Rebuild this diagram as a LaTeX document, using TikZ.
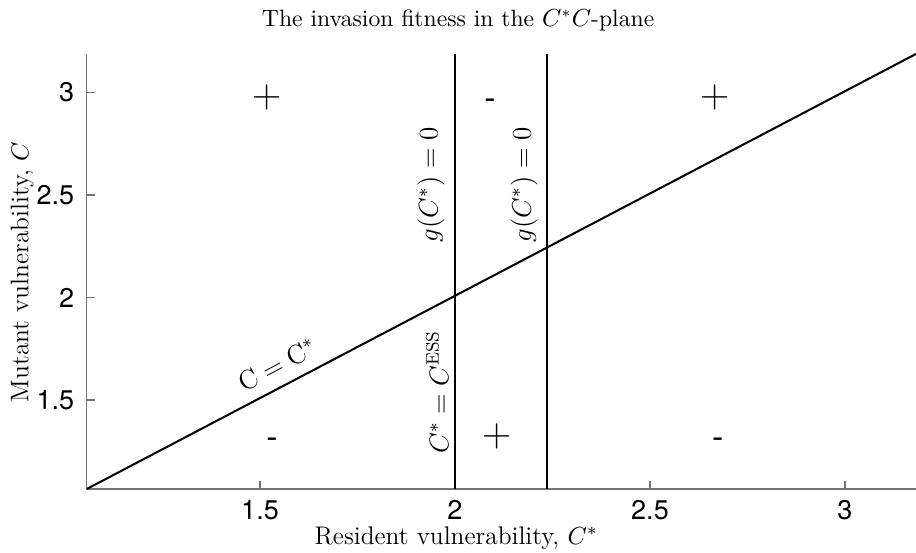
\documentclass[tikz,border=0pt]{standalone}
\usepackage{fontspec}
\newfontfamily\tickfont{TeX Gyre Heros}
\usetikzlibrary{calc}

\begin{document}
\begin{tikzpicture}[x=6.088cm, y=3.2cm,
  axisline/.style={draw=black!55, line width=0.5pt},
  curve/.style={line width=0.9pt},
  ticklabel/.style={font=\tickfont\fontsize{12}{14}\selectfont},
  axislabel/.style={font=\fontsize{11.3}{13}\selectfont},
  plotlabel/.style={font=\fontsize{12}{14}\selectfont},
  plussign/.style={font=\fontsize{18}{20}\selectfont},
  minussign/.style={font=\tickfont\fontsize{15}{17}\selectfont}]

% Fixed frame of the figure
\useasboundingbox (0.8333,0.7537) rectangle (3.1821,3.4512);

% Corners of the axes
\coordinate (O) at (1.056,1.066);
\coordinate (X) at (3.182,1.066);
\coordinate (Y) at (1.056,3.188);
\coordinate (T) at (3.182,3.188);

% Axes with inward ticks
\draw[axisline] (Y) -- (O) -- (X);
\foreach \t [count=\i] in {1.5,2,2.5,3} {
  \draw[axisline] (\t,1.066) -- ++(0,0.039);
  \draw[axisline] (1.056,\t) -- ++(0.0205,0);
  \node[ticklabel] (xt\i) at (\t,0.963) {\t};
  \node[ticklabel, anchor=east] (yt\i) at (1.0436,\t) {\t};
}

% Diagonal and the two vertical lines
\coordinate (E1) at (2,1.066);
\coordinate (E1t) at (2,3.188);
\coordinate (E2) at (2.236,1.066);
\coordinate (E2t) at (2.236,3.188);
\draw[curve] (O) -- (T);
\draw[curve] (E1) -- (E1t);
\draw[curve] (E2) -- (E2t);

% Labels on the lines
\node[plotlabel, rotate=27.7] (diag) at (1.544,1.671) {$\mathrm{C}=\mathrm{C}^*$};
\node[plotlabel, rotate=90] (ess) at (1.954,1.539) {$C^*=C^{\mathrm{ESS}}$};
\node[plotlabel, rotate=90] (g1) at (1.938,2.549) {$g(C^*)=0$};
\node[plotlabel, rotate=90] (g2) at (2.177,2.549) {$g(C^*)=0$};

% Signs of the fitness
\node[plussign] (p1) at (1.518,2.978) {+};
\node[minussign] (m1) at (2.090,2.945) {-};
\node[plussign] (p2) at (2.667,2.978) {+};
\node[minussign] (m2) at (1.531,1.287) {-};
\node[plussign] (p3) at (2.108,1.320) {+};
\node[minussign] (m3) at (2.674,1.287) {-};

% Title and axis labels
\node[axislabel, font=\fontsize{10.5}{12}\selectfont] (title) at (2.008,3.354) {The invasion fitness in the $C^*C$-plane};
\node[axislabel] (xlab) at (2.003,0.827) {Resident vulnerability, $C^*$};
\node[axislabel, rotate=90] (ylab) at (0.890,2.124) {Mutant vulnerability, $C$};

\end{tikzpicture}
\end{document}
